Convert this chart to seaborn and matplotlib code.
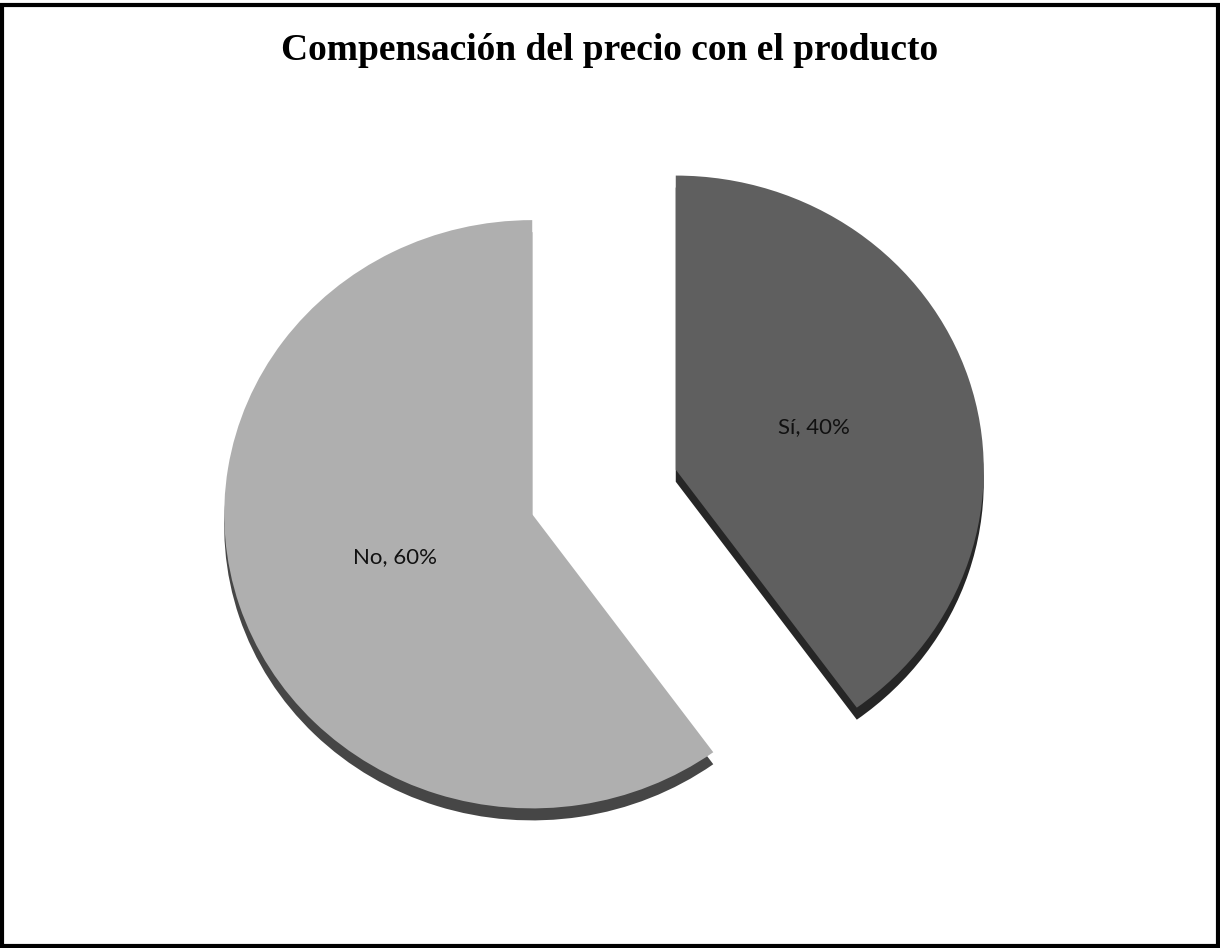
import matplotlib
matplotlib.use("Agg")
import matplotlib.pyplot as plt
import seaborn as sns
from matplotlib.patches import Rectangle

categories = ["Sí", "No"]
values = [40, 60]
colors = ["#5f5f5f", "#afafaf"]
side_colors = ["#262626", "#464646"]
title = "Compensación del precio con el producto"

sns.set_theme(style="white")
plt.rcParams['font.family'] = ['Lato', 'DejaVu Sans']
plt.rcParams['text.color'] = 'black'

W, H = 1220, 948
ky = 0.955  # slight vertical squash for tilted look
fig = plt.figure(figsize=(W / 100, H / 100), dpi=100)
ax = fig.add_axes([0, 0, 1, 1])

R = 308
c0 = (604, 477.5)
explode = [0.245 * R, 0.245 * R]

# 3D depth (side) drawn first, shifted down
ax.pie(values, colors=side_colors, startangle=90, counterclock=False,
       radius=R, center=(c0[0], c0[1] - 12 / ky), explode=explode, frame=True,
       wedgeprops=dict(linewidth=0))

labels_iter = iter(categories)
def fmt(p):
    return f"{next(labels_iter)}, {p:.0f}%"

wedges, texts, autotexts = ax.pie(values, colors=colors, startangle=90, counterclock=False,
                                  radius=R, center=c0, explode=explode, frame=True,
                                  autopct=fmt, pctdistance=0.47,
                                  wedgeprops=dict(linewidth=0),
                                  textprops=dict(fontsize=16, color="#111111"))
ax.set_aspect('auto')
ax.set_xlim(0, W)
ax.set_ylim(0, H / ky)
ax.axis('off')

fig.text(0.5, 1 - 50 / H, title, ha='center', va='center', fontsize=27,
         fontweight='bold', color='black', family=['Liberation Serif', 'DejaVu Serif'])

fig.patches.append(Rectangle((0.002, 0.002), 0.996, 0.993, transform=fig.transFigure,
                             fill=False, edgecolor='black', linewidth=3, zorder=10))

fig.savefig("out.png", dpi=100, facecolor='white')
